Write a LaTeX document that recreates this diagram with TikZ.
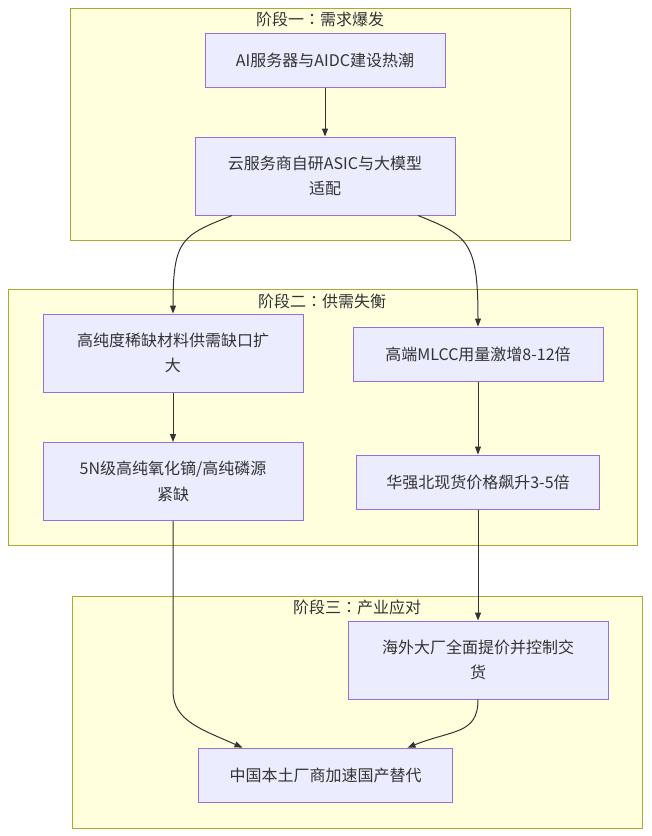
\documentclass[tikz,border=0pt]{standalone}
\usepackage{fontspec}
\setmainfont{Noto Sans CJK SC}
\newfontfamily\tcfont{Noto Sans CJK TC}
\usepackage{xcolor}
\usepackage{tikz}
\usetikzlibrary{arrows.meta,calc}

\definecolor{stagefill}{HTML}{FFFFDE}
\definecolor{stageline}{HTML}{AAAA33}
\definecolor{boxfill}{HTML}{ECECFF}
\definecolor{boxline}{HTML}{9370DB}
\definecolor{ink}{HTML}{333333}

\newcommand{\midcolon}{{\tcfont ：}}

\begin{document}
\begin{tikzpicture}[x=0.75pt, y=-0.75pt,
    font=\fontsize{12}{19}\selectfont,
    stage/.style={draw=stageline, fill=stagefill, line width=0.75pt},
    stagetitle/.style={text=ink, inner sep=0pt},
    proc/.style={draw=boxline, fill=boxfill, line width=0.75pt, text=ink, align=center, inner sep=0pt, minimum height=58.5pt},
    flow/.style={draw=ink, line width=0.75pt, -{Triangle[length=6pt,width=4.5pt]}}]
    \useasboundingbox (0,0) rectangle (651,836);

    % the three stages
    \draw[stage] (70,8) rectangle (570,240);
    \draw[stage] (8,289) rectangle (637,545);
    \draw[stage] (72,596) rectangle (642,828);
    \node[stagetitle] (t1) at (320,19) {阶段一\midcolon 需求爆发};
    \node[stagetitle] (t2) at (322,301) {阶段二\midcolon 供需失衡};
    \node[stagetitle] (t3) at (357,607) {阶段三\midcolon 产业应对};

    \node[proc, minimum width=180pt, minimum height=40.5pt] (A) at (325,60) {AI服务器与AIDC建设热潮};
    \node[proc, minimum width=195pt] (B) at (325,176) {云服务商自研ASIC与大模型\\适配};
    \node[proc, minimum width=195pt] (C) at (173,353) {高纯度稀缺材料供需缺口扩\\大};
    \node[proc, minimum width=195pt] (D) at (173,481.5) {5N级高纯氧化镝/高纯磷源\\紧缺};
    \node[proc, minimum width=187.5pt, minimum height=40.5pt] (E) at (478,354) {高端MLCC用量激增8-12倍};
    \node[proc, minimum width=182pt, minimum height=40.5pt] (F) at (478,482) {华强北现货价格飙升3-5倍};
    \node[proc, minimum width=195pt] (G) at (478,660) {海外大厂全面提价并控制交\\货};
    \node[proc, minimum width=190pt, minimum height=41pt] (H) at (325.5,775.5) {中国本土厂商加速国产替代};

    \draw[flow] (A) -- (B);
    \draw[flow] ($(B.south)+(-93,0)$) .. controls +(-50,20) and +(0,-75) .. (C.north); % left branch
    \draw[flow] ($(B.south)+(93,0)$) .. controls +(50,20) and +(0,-85) .. (E.north); % right branch
    \draw[flow] (C) -- (D);
    \draw[flow] (E) -- (F);
    \draw[flow] (F) -- (G);
    \draw[flow] (D.south) -- ++(0,170) .. controls +(0,30) and +(-40,-18) .. ($(H.north)+(-83,0)$);
    \draw[flow] (G.south) .. controls +(0,35) and +(45,-18) .. ($(H.north)+(82,0)$);
\end{tikzpicture}
\end{document}
